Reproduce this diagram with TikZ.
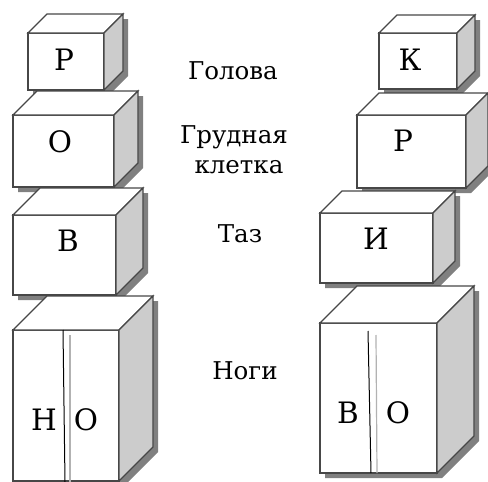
\documentclass[tikz,border=0pt]{standalone}
\usepackage{fontspec}
\newfontfamily\tnr{DejaVu Serif}
\begin{document}
\begin{tikzpicture}[x=1pt,y=-1pt,
  edge/.style={draw=black!72,line width=1.1pt,line join=miter},
  shade/.style={fill=black!50},
  sideface/.style={edge,fill=black!20},
  whiteface/.style={edge,fill=white},
  letter/.style={font=\tnr\fontsize{29.5}{29.5}\selectfont,inner sep=0pt},
  label/.style={font=\tnr\fontsize{24.5}{24.5}\selectfont,inner sep=0pt},
  seam/.style={draw=black,line width=1pt},
  seamlight/.style={draw=black!30,line width=1.2pt}]
\clip (0,0) rectangle (488,482);
\fill[white] (0,0) rectangle (488,482);
% box: #1=x, #2=y (front top-left), #3=w, #4=h, #5=depth
\newcommand\cubebox[5]{%
  \fill[shade,shift={(5,5)}] (#1,#2+#4) -- (#1,#2) -- (#1+#5,#2-#5) -- (#1+#3+#5,#2-#5) -- (#1+#3+#5,#2+#4-#5) -- (#1+#3,#2+#4) -- cycle;
  \path[whiteface] (#1,#2) rectangle (#1+#3,#2+#4);
  \path[whiteface] (#1,#2) -- (#1+#5,#2-#5) -- (#1+#3+#5,#2-#5) -- (#1+#3,#2) -- cycle;
  \path[sideface] (#1+#3,#2) -- (#1+#3+#5,#2-#5) -- (#1+#3+#5,#2+#4-#5) -- (#1+#3,#2+#4) -- cycle;
}
% left figure
\cubebox{28}{33}{76}{57}{19}
\node[letter] (lhead) at (64,60) {Р};
\cubebox{13}{115}{101}{72}{24}
\node[letter] (lchest) at (60,142) {О};
\cubebox{13}{215}{103}{80}{27}
\node[letter] (lpelvis) at (68,241) {В};
\cubebox{13}{330}{106}{151}{34}
\coordinate (ls1) at (63,330); \coordinate (ls2) at (65,482);
\coordinate (lg1) at (70,335); \coordinate (lg2) at (70,482);
\draw[seam] (ls1) -- (ls2);
\draw[seamlight] (lg1) -- (lg2);
\node[letter] (lleg1) at (44,420) {Н};
\node[letter] (lleg2) at (86,420) {О};
% right figure
\cubebox{379}{33}{78}{56}{18}
\node[letter] (rhead) at (410,60) {К};
\cubebox{357}{115}{109}{73}{22}
\node[letter] (rchest) at (403,141) {Р};
\cubebox{320}{213}{113}{70}{22}
\node[letter] (rpelvis) at (376,239) {И};
\cubebox{320}{323}{117}{150}{37}
\coordinate (rs1) at (368,331); \coordinate (rs2) at (371,473);
\coordinate (rg1) at (376,335); \coordinate (rg2) at (377,473);
\draw[seam] (rs1) -- (rs2);
\draw[seamlight] (rg1) -- (rg2);
\node[letter] (rleg1) at (348,413) {В};
\node[letter] (rleg2) at (398,413) {О};
% labels
\node[label] (head) at (233,71) {Голова};
\node[label] (chest1) at (234,137) {Грудная};
\node[label] (chest2) at (239,167) {клетка};
\node[label] (pelvis) at (240,234) {Таз};
\node[label] (legs) at (245,371) {Ноги};
\end{tikzpicture}
\end{document}
